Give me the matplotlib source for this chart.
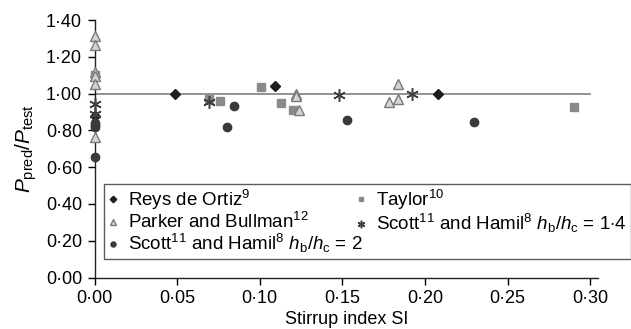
import numpy as np
import matplotlib.pyplot as plt
from matplotlib.ticker import FuncFormatter

plt.rcParams['font.family'] = ['Liberation Sans', 'DejaVu Sans']
plt.rcParams['mathtext.fontset'] = 'custom'
plt.rcParams['mathtext.rm'] = 'Liberation Sans'
plt.rcParams['mathtext.it'] = 'Liberation Sans:italic'

# Data (stirrup index SI, Ppred/Ptest)
reys_x = [0.0, 0.049, 0.109, 0.208]
reys_y = [0.88, 1.00, 1.04, 1.00]

taylor_x = [0.0, 0.069, 0.076, 0.101, 0.113, 0.120, 0.290]
taylor_y = [1.10, 0.97, 0.96, 1.035, 0.95, 0.91, 0.925]

parker_x = [0.0, 0.0, 0.0, 0.0, 0.0, 0.0, 0.122, 0.122, 0.124, 0.1785, 0.1836, 0.1836]
parker_y = [1.315, 1.265, 1.115, 1.095, 1.055, 0.765, 1.00, 0.985, 0.91, 0.955, 0.97, 1.05]

scott14_x = [0.0, 0.0, 0.069, 0.148, 0.192]
scott14_y = [0.945, 0.89, 0.955, 0.99, 1.00]

scott2_x = [0.0, 0.0, 0.0, 0.0, 0.080, 0.0845, 0.153, 0.230]
scott2_y = [0.84, 0.83, 0.82, 0.655, 0.82, 0.935, 0.855, 0.843]

xticks = [0.0, 0.05, 0.10, 0.15, 0.20, 0.25, 0.30]
yticks = [0.0, 0.2, 0.4, 0.6, 0.8, 1.0, 1.2, 1.4]

fig = plt.figure(figsize=(6.31, 3.29), dpi=100)
ax = fig.add_axes([0.1498, 0.1565, 0.7985, 0.7825])

ax.plot([0, 0.30], [1.0, 1.0], color='#808080', lw=1.2, zorder=1)

h_reys, = ax.plot(reys_x, reys_y, 'D', color='#1e1e1e', ms=5.5, ls='none', zorder=3,
                  clip_on=False)
h_tay, = ax.plot(taylor_x, taylor_y, 's', color='#8a8a8a', ms=5.5, ls='none', zorder=3,
                 clip_on=False)
h_par, = ax.plot(parker_x, parker_y, '^', mfc='#d4d4d4', mec='#7a7a7a', mew=1.0, ms=6.5,
                 ls='none', zorder=4, clip_on=False)
h_s14, = ax.plot(scott14_x, scott14_y, marker=(6, 2, 0), color='#404040', mew=1.1, ms=9,
                 ls='none', zorder=3, clip_on=False)
h_s2, = ax.plot(scott2_x, scott2_y, 'o', color='#3a3a3a', ms=6, ls='none', zorder=3,
                clip_on=False)

ax.set_xlim(0, 0.305)
ax.set_ylim(0, 1.40)
ax.set_xticks(xticks)
ax.set_yticks(yticks)
fmt = FuncFormatter(lambda v, p: f'{v:.2f}'.replace('.', '\u00b7'))
ax.xaxis.set_major_formatter(fmt)
ax.yaxis.set_major_formatter(fmt)
ax.tick_params(labelsize=13, length=5, width=1, direction='out', pad=4)
for s in ['top', 'right']:
    ax.spines[s].set_visible(False)
for s in ['left', 'bottom']:
    ax.spines[s].set_linewidth(1)
    ax.spines[s].set_color('#222222')

ax.set_xlabel('Stirrup index SI', fontsize=13, labelpad=3)
ax.set_ylabel(r'$P_\mathrm{pred}/P_\mathrm{test}$', fontsize=15, labelpad=5)

labels = [
    r'Reys de Ortiz$^{9}$',
    r'Parker and Bullman$^{12}$',
    r'Scott$^{11}$ and Hamil$^{8}$ $h_\mathrm{b}/h_\mathrm{c}$ = 2',
    r'Taylor$^{10}$',
    r'Scott$^{11}$ and Hamil$^{8}$ $h_\mathrm{b}/h_\mathrm{c}$ = 1$\cdot$4',
]
leg = ax.legend([h_reys, h_par, h_s2, h_tay, h_s14], labels, ncol=2, loc='lower left',
                bbox_to_anchor=(0.019, 0.072), fontsize=13.5, frameon=True, fancybox=False,
                edgecolor='#333333', borderpad=0.2, labelspacing=0.0, handlelength=0.6,
                handletextpad=0.5, columnspacing=-0.4, markerscale=0.6, borderaxespad=0)
leg.get_frame().set_linewidth(1)

fig.savefig('out.png', dpi=100)
